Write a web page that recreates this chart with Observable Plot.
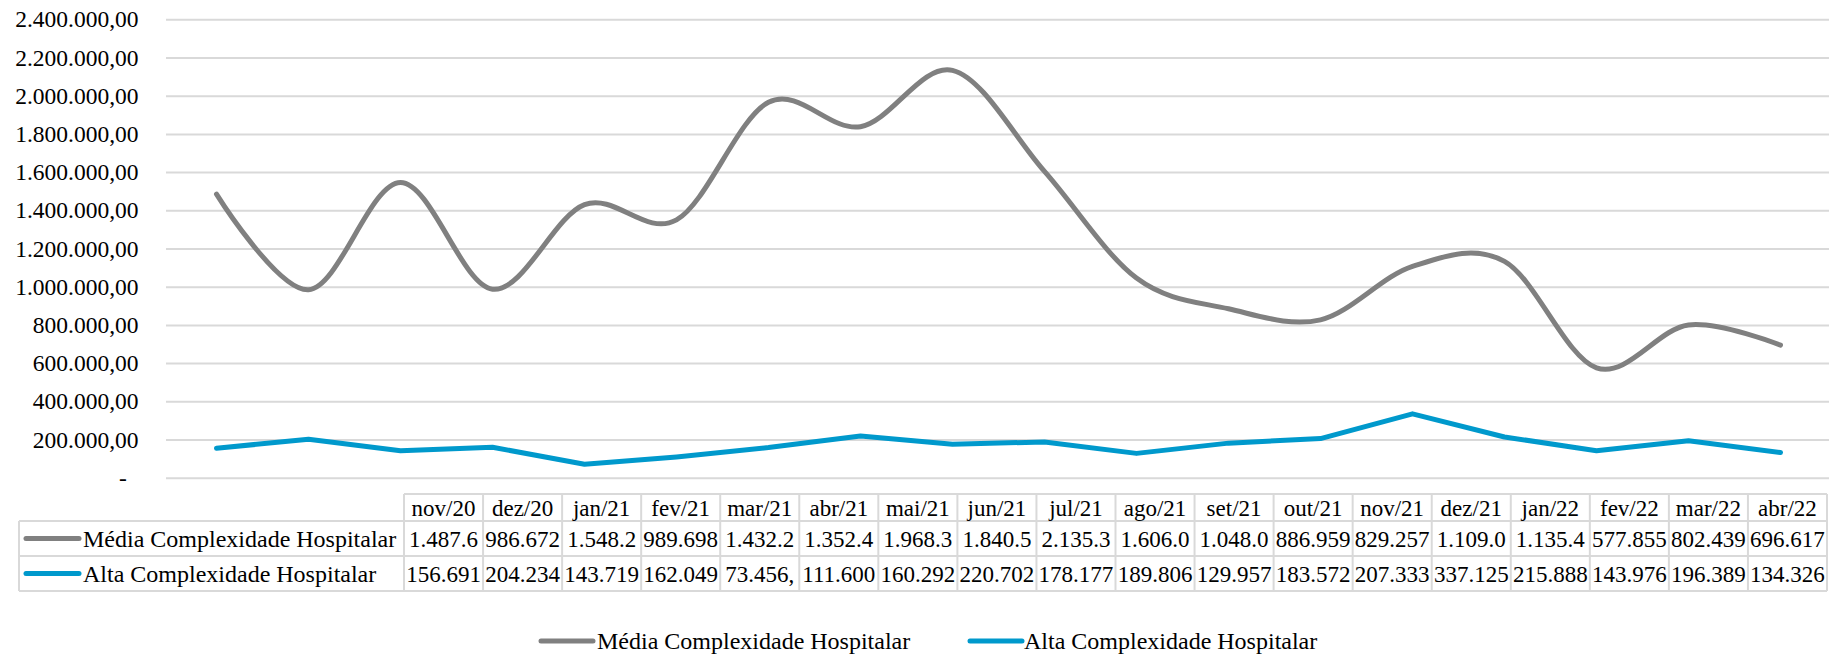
<!DOCTYPE html>
<html><head><meta charset="utf-8">
<script src="https://cdn.jsdelivr.net/npm/d3@7"></script>
<script src="https://cdn.jsdelivr.net/npm/@observablehq/plot@0.6"></script>
<style>
html,body{margin:0;padding:0;background:#fff;}
#wrap{position:relative;width:1831px;height:654px;overflow:hidden;font-family:"Liberation Serif","Times New Roman",serif;}
#wrap svg{position:absolute;left:0;font-family:"Liberation Serif","Times New Roman",serif;}
#wrap svg text{font-family:"Liberation Serif","Times New Roman",serif !important;font-variant:normal !important;}
</style></head><body><div id="wrap"></div>
<script>
// ---- data ----
const months = ["nov/20","dez/20","jan/21","fev/21","mar/21","abr/21","mai/21","jun/21","jul/21","ago/21","set/21","out/21","nov/21","dez/21","jan/22","fev/22","mar/22","abr/22"];
const mediaValues = [1487600, 986672, 1548200, 989698, 1432200, 1352400, 1968300, 1840500, 2135300, 1606000, 1048000, 886959, 829257, 1109000, 1135400, 577855, 802439, 696617];
const altaValues = [156691, 204234, 143719, 162049, 73456, 111600, 160292, 220702, 178177, 189806, 129957, 183572, 207333, 337125, 215888, 143976, 196389, 134326];
const seriesNames = ["Média Complexidade Hospitalar", "Alta Complexidade Hospitalar"];
const seriesColors = ["#808080", "#0099CC"];
const yTicks = [0, 200000, 400000, 600000, 800000, 1000000, 1200000, 1400000, 1600000, 1800000, 2000000, 2200000, 2400000];

// ---- formatting ----
const ptBR = d3.formatLocale({decimal: ",", thousands: ".", grouping: [3], currency: ["R$", ""]});
const f2 = ptBR.format(",.2f");
const axisFmt = v => v === 0 ? "-\u00a0\u00a0" : f2(v);
const cellFmt = v => f2(v).slice(0, 7);

const mediaRows = months.map((m, i) => ({month: m, value: mediaValues[i]}));
const altaRows = months.map((m, i) => ({month: m, value: altaValues[i]}));

const FONT = "Liberation Serif";
const W = 1831;
const chart = Plot.plot({
  width: W, height: 494,
  marginLeft: 166, marginRight: 2, marginTop: 19.3, marginBottom: 16.3,
  x: {type: "point", domain: months, padding: 0.5, axis: null},
  y: {domain: [0, 2400000], axis: null},
  style: {fontFamily: "Liberation Serif, serif", fontSize: "23.5px", color: "#000", background: "transparent", overflow: "visible"},
  marks: [
    Plot.ruleY(yTicks, {stroke: "#d9d9d9", strokeWidth: 2}),
    Plot.text(yTicks, {y: d => d, text: axisFmt, frameAnchor: "left", dx: -28, textAnchor: "end", fill: "#000", fontSize: 23.5, fontFamily: FONT}),
    Plot.line(mediaRows, {x: "month", y: "value", stroke: seriesColors[0], strokeWidth: 5, curve: "cardinal", strokeLinecap: "round"}),
    Plot.line(altaRows, {x: "month", y: "value", stroke: seriesColors[1], strokeWidth: 5, curve: "linear", strokeLinecap: "round", strokeLinejoin: "round"})
  ]
});
chart.style.top = "0px";
d3.select(chart).selectAll("text").style("font-family", FONT).attr("font-variant", null);
document.getElementById("wrap").appendChild(chart);

// ---- data table + legend ----
const svg = d3.select("#wrap").append("svg")
  .attr("width", W).attr("height", 654).style("top", "0px")
  .style("font-family", FONT);
const x0 = 19, xc = 404, xEnd = 1827, cw = (xEnd - xc) / months.length;
const yH = 494, y1 = 521, y2 = 556, y3 = 591;
const border = "#d9d9d9";
const g = svg.append("g").attr("stroke", border).attr("stroke-width", 2);
g.append("line").attr("x1", xc).attr("x2", xEnd).attr("y1", yH).attr("y2", yH);
[y1, y2, y3].forEach(y => g.append("line").attr("x1", x0).attr("x2", xEnd).attr("y1", y).attr("y2", y));
g.append("line").attr("x1", x0).attr("x2", x0).attr("y1", y1).attr("y2", y3);
d3.range(months.length + 1).forEach(k => g.append("line").attr("x1", xc + k * cw).attr("x2", xc + k * cw).attr("y1", yH).attr("y2", y3));

const cellText = (txt, cx, cy) => svg.append("text").attr("x", cx).attr("y", cy).attr("dy", "0.35em")
  .attr("text-anchor", "middle").attr("font-size", 23).attr("fill", "#000").text(txt);
months.forEach((m, i) => {
  const cx = xc + (i + 0.5) * cw;
  cellText(m, cx, (yH + y1) / 2);
  cellText(cellFmt(mediaValues[i]), cx, (y1 + y2) / 2);
  cellText(cellFmt(altaValues[i]), cx, (y2 + y3) / 2);
});
[[y1, y2], [y2, y3]].forEach(([a, b], s) => {
  const cy = (a + b) / 2;
  svg.append("line").attr("x1", 26).attr("x2", 79).attr("y1", cy).attr("y2", cy)
    .attr("stroke", seriesColors[s]).attr("stroke-width", 5).attr("stroke-linecap", "round");
  svg.append("text").attr("x", 83).attr("y", cy).attr("dy", "0.35em").attr("font-size", 24).attr("fill", "#000").text(seriesNames[s]);
});

// bottom legend
const legY = 641;
[[541, 593, 597], [970, 1022, 1024]].forEach(([a, b, t], s) => {
  svg.append("line").attr("x1", a).attr("x2", b).attr("y1", legY).attr("y2", legY)
    .attr("stroke", seriesColors[s]).attr("stroke-width", 5).attr("stroke-linecap", "round");
  svg.append("text").attr("x", t).attr("y", legY).attr("dy", "0.35em").attr("font-size", 24).attr("fill", "#000").text(seriesNames[s]);
});
</script></body></html>
